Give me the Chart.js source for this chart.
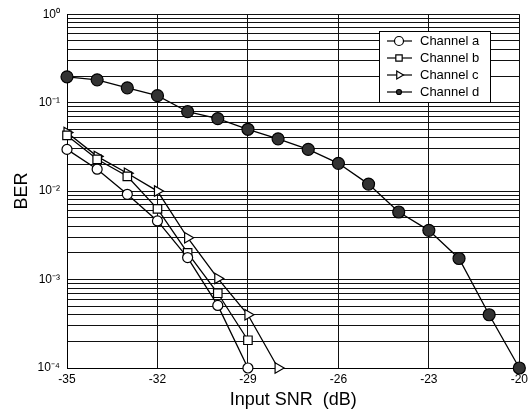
<!DOCTYPE html>
<html>
<head>
<meta charset="utf-8">
<script src="https://cdn.jsdelivr.net/npm/chart.js@4"></script>
<style>
  html, body { margin: 0; padding: 0; background: #fff; }
  #wrap { width: 532px; height: 415px; }
</style>
</head>
<body>
<div id="wrap"><canvas id="myChart" width="532" height="415"></canvas></div>
<script>
// input SNR in dB
const snrAB = [-35, -34, -33, -32, -31, -30, -29];
const snrC = [-35, -34, -33, -32, -31, -30, -29, -28];
const snrD = [-35, -34, -33, -32, -31, -30, -29, -28, -27, -26, -25, -24, -23, -22, -21, -20];

// BER
const berA = [0.0296, 0.0177, 0.0092, 0.0046, 0.00177, 0.00051, 0.0001];
const berB = [0.0426, 0.0229, 0.0147, 0.0063, 0.0020, 0.0007, 0.000206];
const berC = [0.046, 0.0247, 0.0159, 0.0100, 0.00297, 0.00103, 0.0004, 0.0001];
const berD = [0.196, 0.181, 0.147, 0.12, 0.079, 0.066, 0.050, 0.039, 0.0296, 0.0206, 0.012, 0.0058, 0.0036, 0.00173, 0.0004, 0.0001];

const xTicks = [-35, -32, -29, -26, -23, -20];
const seriesNames = ["Channel a", "Channel b", "Channel c", "Channel d"];

const sup = { "-": "\u207B", "0": "\u2070", "1": "\u00B9", "2": "\u00B2", "3": "\u00B3", "4": "\u2074" };
const FONT = "'Liberation Sans', Arial, sans-serif";

function pts(xs, ys) {
  return xs.map((x, i) => ({ x: x, y: ys[i] }));
}

function makeSet(label, data, style, radius, fill, rotation) {
  return {
    label: label,
    data: data,
    borderColor: "#000",
    borderWidth: 1.3,
    pointStyle: style,
    pointRadius: radius,
    pointRotation: rotation || 0,
    pointBackgroundColor: fill,
    pointBorderColor: "#000",
    pointBorderWidth: 1.2,
    tension: 0,
    fill: false,
    clip: false,
  };
}

// legend box drawn inside the plot area
const boxLegend = {
  id: "boxLegend",
  afterDraw(chart) {
    const ctx = chart.ctx;
    const left = 379, top = 31, w = 111, h = 71;
    ctx.save();
    ctx.fillStyle = "#fff";
    ctx.fillRect(left, top, w, h);
    ctx.strokeStyle = "#000";
    ctx.lineWidth = 1;
    ctx.strokeRect(left + 0.5, top + 0.5, w, h);
    chart.data.datasets.forEach((ds, i) => {
      const y = 41 + i * 17;
      ctx.strokeStyle = "#000";
      ctx.lineWidth = 1.2;
      ctx.beginPath();
      ctx.moveTo(387, y);
      ctx.lineTo(412, y);
      ctx.stroke();
      ctx.fillStyle = ds.pointBackgroundColor;
      ctx.strokeStyle = "#000";
      ctx.lineWidth = 1.2;
      Chart.helpers.drawPoint(ctx, {
        pointStyle: ds.pointStyle,
        rotation: ds.pointRotation,
        radius: i === 3 ? 2.5 : 4.5,
        borderWidth: 1.2,
      }, 399, y);
      ctx.fillStyle = "#000";
      ctx.font = "13px " + FONT;
      ctx.textBaseline = "middle";
      ctx.textAlign = "left";
      ctx.fillText(ds.label, 420, y);
    });
    ctx.restore();
  },
};

const ctx = document.getElementById("myChart").getContext("2d");
const myChart = new Chart(ctx, {
  type: "line",
  data: {
    datasets: [
      makeSet(seriesNames[0], pts(snrAB, berA), "circle", 5, "#fff"),
      makeSet(seriesNames[1], pts(snrAB, berB), "rect", 6, "#fff"),
      makeSet(seriesNames[2], pts(snrC, berC), "triangle", 6, "#fff", 90),
      makeSet(seriesNames[3], pts(snrD, berD), "circle", 6, "#333"),
    ],
  },
  plugins: [boxLegend],
  options: {
    responsive: false,
    animation: false,
    layout: { padding: { top: 12, right: 11, left: 0, bottom: 0 } },
    plugins: {
      legend: { display: false },
      tooltip: { enabled: false },
    },
    scales: {
      x: {
        type: "linear",
        min: -35,
        max: -20,
        afterFit: (scale) => { scale.height = 47; },
        afterBuildTicks: (scale) => { scale.ticks = xTicks.map((v) => ({ value: v })); },
        grid: { color: "#111", lineWidth: 1, drawTicks: false },
        border: { color: "#000", width: 1 },
        ticks: {
          padding: 4,
          color: "#000",
          font: { family: FONT, size: 12 },
          callback: (v) => String(v),
        },
        title: {
          display: true,
          text: "Input SNR  (dB)",
          color: "#000",
          font: { family: FONT, size: 18 },
          padding: { top: 4, bottom: 4 },
        },
      },
      y: {
        type: "logarithmic",
        min: 0.0001,
        max: 1,
        afterFit: (scale) => { scale.width = 67; },
        afterBuildTicks: (scale) => {
          scale.ticks = scale.ticks.filter((t) => {
            const e = Math.floor(Math.log10(t.value) + 1e-9);
            const m = t.value / Math.pow(10, e);
            return Math.abs(m - Math.round(m)) < 1e-6;
          });
        },
        grid: { color: "#111", lineWidth: 1, drawTicks: false },
        border: { color: "#000", width: 1 },
        ticks: {
          autoSkip: false,
          padding: 7,
          color: "#000",
          font: { family: FONT, size: 12 },
          callback: function (v) {
            const e = Math.log10(v);
            if (Math.abs(e - Math.round(e)) > 1e-6) return "";
            const s = String(Math.round(e)).split("").map((c) => sup[c]).join("");
            return "10" + s;
          },
        },
        title: {
          display: true,
          text: "BER",
          color: "#000",
          font: { family: FONT, size: 18 },
          padding: { top: 11, bottom: 0 },
        },
      },
    },
  },
});
</script>
</body>
</html>
